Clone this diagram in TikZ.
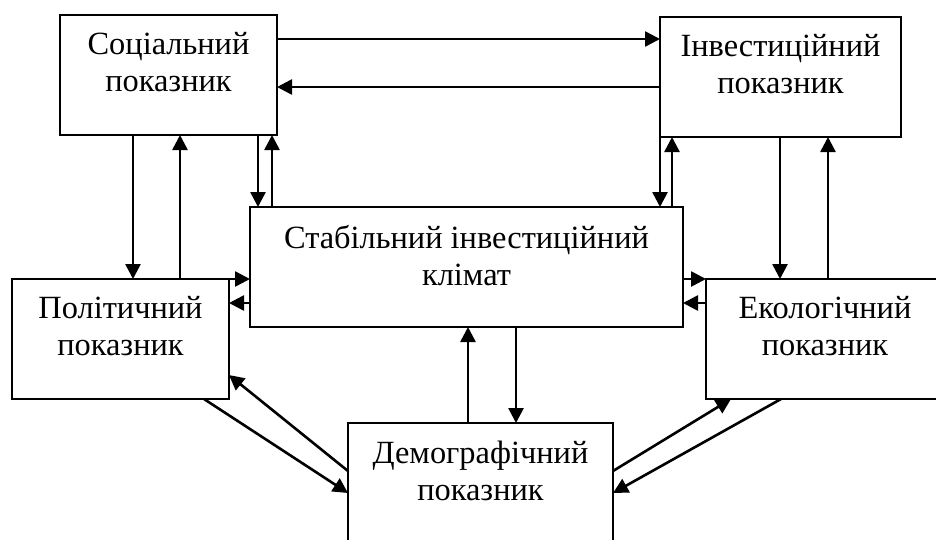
\documentclass[tikz,border=0pt]{standalone}
\usepackage{fontspec}
\setmainfont{Liberation Serif}
\usetikzlibrary{arrows.meta}
\begin{document}
\begin{tikzpicture}[x=1pt,y=-1pt,>={Triangle[length=15pt,width=15pt]},
	box/.style={draw,line width=2pt,inner sep=0pt,outer sep=0pt,minimum height=120pt,anchor=north west},
	txt/.style={inner sep=0pt,anchor=north,align=center,font=\fontsize{32.4}{37}\selectfont},
	link/.style={->,line width=2.6pt}]
	\useasboundingbox(0,0)rectangle(936,539);
	\clip(0,0)rectangle(936,539);
	% boxes
	\node[box,minimum width=217pt](soc)at(60,15){};
	\node[box,minimum width=241pt](inv)at(660,17){};
	\node[box,minimum width=433pt](clim)at(250,207){};
	\node[box,minimum width=217pt](pol)at(12,279){};
	\node[box,minimum width=238pt](eco)at(706,279){};
	\node[box,minimum width=265pt](dem)at(348,423){};
	\node[txt](soc-t)at([yshift=-17.6pt]soc.north){Соціальний\\показник};
	\node[txt](inv-t)at([yshift=-17.6pt]inv.north){Інвестиційний\\показник};
	\node[txt](clim-t)at([yshift=-17.6pt]clim.north){Стабільний інвестиційний\\клімат};
	\node[txt](pol-t)at([yshift=-17.6pt]pol.north){Політичний\\показник};
	\node[txt](eco-t)at([yshift=-17.6pt]eco.north){Екологічний\\показник};
	\node[txt](dem-t)at([yshift=-17.6pt]dem.north){Демографічний\\показник};
	% top pair
	\draw[link](soc.east|-0,39)--(inv.west|-0,39);
	\draw[link](inv.west|-0,87)--(soc.east|-0,87);
	% left column
	\draw[link](133,0|-soc.south)--(133,0|-pol.north);
	\draw[link](180,0|-pol.north)--(180,0|-soc.south);
	\draw[link](258,0|-soc.south)--(258,0|-clim.north);
	\draw[link](272,0|-clim.north)--(272,0|-soc.south);
	% right column
	\draw[link](inv.south west)--(inv.south west|-clim.north);
	\draw[link](672,0|-clim.north)--(672,0|-inv.south);
	\draw[link](780,0|-inv.south)--(780,0|-eco.north);
	\draw[link](828,0|-eco.north)--(828,0|-inv.south);
	% middle row
	\draw[link](pol.north east)--(pol.north east-|clim.west);
	\draw[link](clim.west|-0,303)--(pol.east|-0,303);
	\draw[link](eco.north west-|clim.east)--(eco.north west);
	\draw[link](eco.west|-0,303)--(clim.east|-0,303);
	\draw[link](516,0|-clim.south)--(516,0|-dem.north);
	\draw[link](468,0|-dem.north)--(468,0|-clim.south);
	% bottom
	\draw[link](204,0|-pol.south)--(dem.west|-0,493);
	\draw[link](dem.west|-0,471)--(pol.east|-0,375);
	\draw[link](dem.east|-0,471)--(731,0|-eco.south);
	\draw[link](781,0|-eco.south)--(dem.east|-0,493);
\end{tikzpicture}
\end{document}
